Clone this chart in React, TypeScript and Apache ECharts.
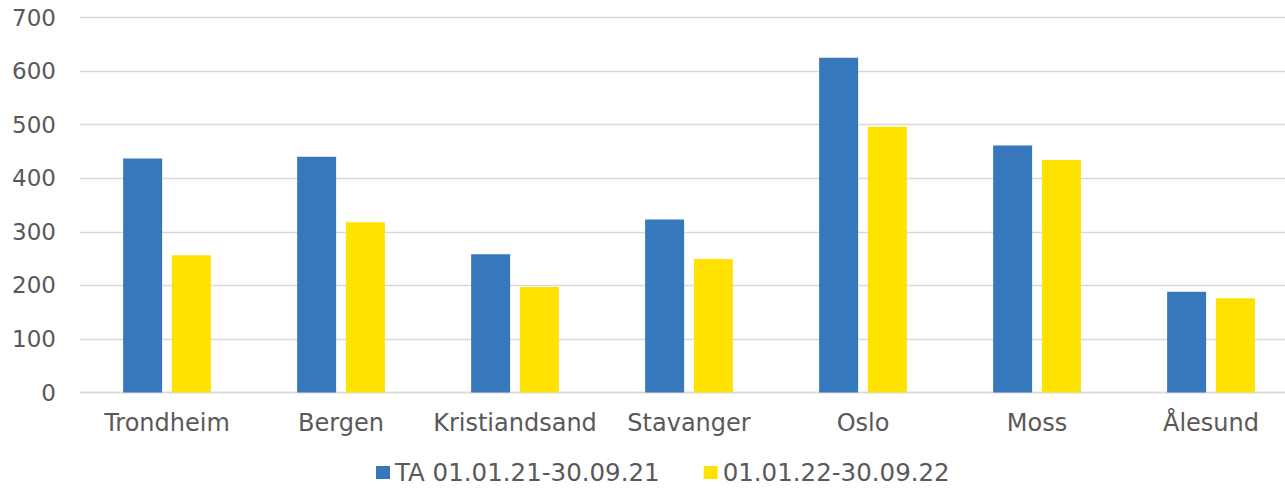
import React, { useEffect, useRef } from "react";
import * as echarts from "echarts";

const categories = ["Trondheim", "Bergen", "Kristiandsand", "Stavanger", "Oslo", "Moss", "Ålesund"];
const series2021 = [437, 440, 258, 323, 625, 461, 188];
const series2022 = [256, 318, 197, 249, 496, 434, 176];
const seriesNames = ["TA 01.01.21-30.09.21", "01.01.22-30.09.22"];
const yTicks = { min: 0, max: 700, interval: 100 };

const FONT = "'DejaVu Sans', Verdana, sans-serif";
const TEXT = "#595959";
const GRID = "#d9d9d9";

export default function App() {
  const ref = useRef<HTMLDivElement>(null);
  useEffect(() => {
    if (!ref.current) return;
    const chart = echarts.init(ref.current, null, { renderer: "svg" });
    chart.setOption({
      animation: false,
      backgroundColor: "#ffffff",
      textStyle: { fontFamily: FONT, color: TEXT },
      grid: { left: 80, right: 2, top: 17.5, bottom: 95.5, containLabel: false },
      legend: {
        data: seriesNames,
        top: 460,
        left: 376,
        padding: 0,
        itemWidth: 14,
        itemHeight: 13,
        itemGap: 44,
        icon: "rect",
        textStyle: { fontFamily: FONT, fontSize: 24.5, lineHeight: 23, color: TEXT },
      },
      xAxis: {
        type: "category",
        data: categories,
        axisTick: { show: false },
        axisLine: { lineStyle: { color: GRID, width: 1.3 } },
        axisLabel: { fontFamily: FONT, fontSize: 24, color: TEXT, margin: 18, interval: 0 },
      },
      yAxis: {
        type: "value",
        min: yTicks.min,
        max: yTicks.max,
        interval: yTicks.interval,
        axisLine: { show: false },
        axisTick: { show: false },
        splitLine: { lineStyle: { color: GRID, width: 1.3 } },
        axisLabel: { fontFamily: FONT, fontSize: 23, color: TEXT, margin: 24 },
      },
      series: [
        {
          name: seriesNames[0],
          type: "bar",
          data: series2021,
          barWidth: 39,
          barGap: "25%",
          itemStyle: { color: "#3777BC" },
        },
        {
          name: seriesNames[1],
          type: "bar",
          data: series2022,
          barWidth: 39,
          itemStyle: { color: "#FFE200" },
        },
      ],
    });
    return () => chart.dispose();
  }, []);
  return (
    <div style={{ position: "absolute", left: 0, top: 0, width: 1285, height: 488, overflow: "hidden" }}>
      <div ref={ref} style={{ width: 1300, height: 488 }} />
    </div>
  );
}
